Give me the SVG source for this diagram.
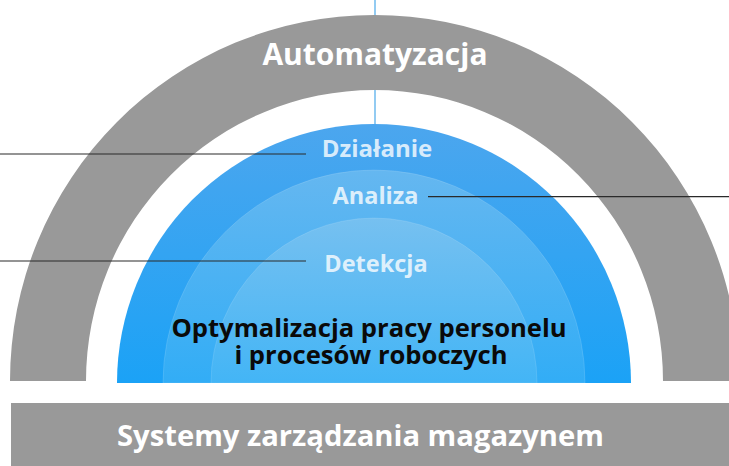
<svg xmlns="http://www.w3.org/2000/svg" width="729" height="466" viewBox="0 0 729 466">
<style>
.gray{fill:#999999}
.lbl{font-family:"Open Sans","Liberation Sans",sans-serif;font-weight:700;text-anchor:middle}
.white{fill:#ffffff}
.soft{fill:#ffffff;fill-opacity:0.8}
.dark{fill:#0a0a0a}
.conn{stroke:#2a2a2a;stroke-width:1.2;fill:none}
</style>
<defs>
<linearGradient id="g1" gradientUnits="userSpaceOnUse" x1="0" y1="124" x2="0" y2="383">
<stop offset="0" stop-color="#4ca6ee"/><stop offset="1" stop-color="#1ba2f6"/>
</linearGradient>
<linearGradient id="g2" gradientUnits="userSpaceOnUse" x1="0" y1="170" x2="0" y2="383">
<stop offset="0" stop-color="#65b7f0"/><stop offset="1" stop-color="#32adf6"/>
</linearGradient>
<linearGradient id="g3" gradientUnits="userSpaceOnUse" x1="0" y1="218" x2="0" y2="383">
<stop offset="0" stop-color="#76c0f0"/><stop offset="1" stop-color="#43b5f6"/>
</linearGradient>
</defs>
<line x1="375" y1="0" x2="375" y2="126" stroke="#4aa8ea" stroke-width="1.2"/>
<g id="automatyzacja">
<path class="gray" d="M10 381 A364.5 366 0 0 1 739 381 L663 381 A288.5 291 0 0 0 86 381 Z"/>
<text class="lbl white" x="375" y="65" font-size="30">Automatyzacja</text>
</g>
<g id="systemy">
<rect class="gray" x="11" y="403" width="718" height="63"/>
<text class="lbl white" x="360.5" y="446" font-size="29.2">Systemy zarządzania magazynem</text>
</g>
<g id="dzialanie">
<path fill="url(#g1)" d="M117 383 A257 259 0 0 1 631 383 Z"/>
<text class="lbl soft" x="377" y="157" font-size="24">Działanie</text>
</g>
<g id="analiza">
<path fill="url(#g2)" stroke="#ffffff" stroke-opacity="0.12" d="M163 383 A211 213 0 0 1 585 383 Z"/>
<text class="lbl soft" x="375.5" y="204" font-size="23.5">Analiza</text>
</g>
<g id="detekcja">
<path fill="url(#g3)" stroke="#ffffff" stroke-opacity="0.12" d="M211 383 A163 165 0 0 1 537 383 Z"/>
<text class="lbl soft" x="376" y="272" font-size="23.5">Detekcja</text>
</g>
<g id="optymalizacja">
<text class="lbl dark" font-size="25.6"><tspan x="369" y="337">Optymalizacja pracy personelu</tspan><tspan x="371" y="364">i procesów roboczych</tspan></text>
</g>
<g id="connectors">
<line class="conn" x1="0" y1="154" x2="306" y2="154"/>
<line class="conn" x1="0" y1="261" x2="306" y2="261"/>
<line class="conn" x1="428" y1="196.7" x2="729" y2="196.7"/>
</g>
</svg>
